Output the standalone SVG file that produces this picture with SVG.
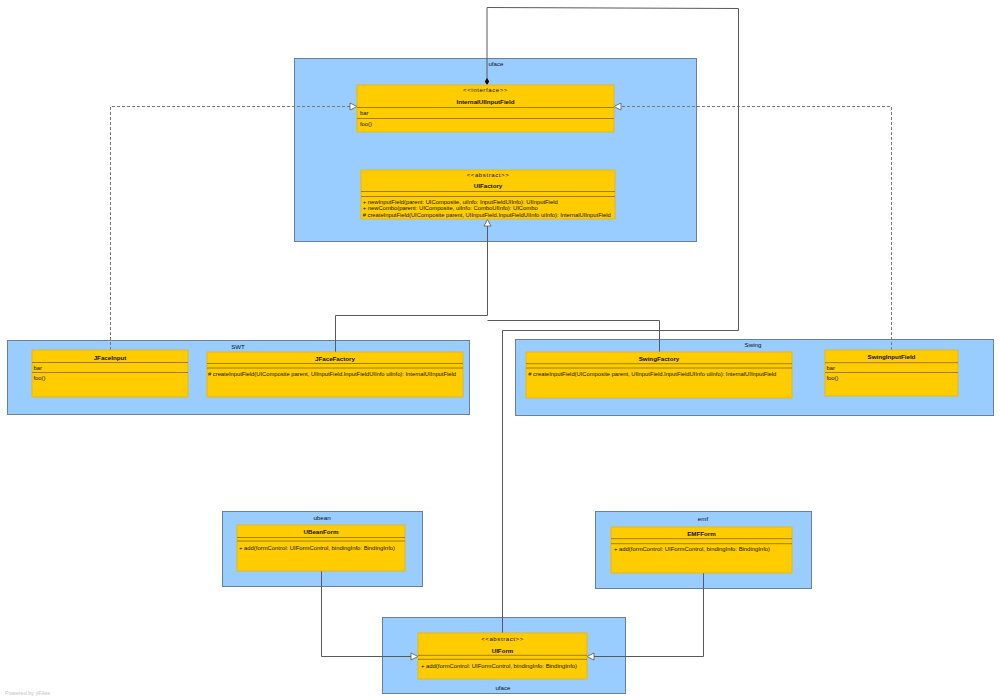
<svg xmlns="http://www.w3.org/2000/svg" width="1000" height="700" viewBox="0 0 1000 700">
<style>
.pkg{fill:#99CCFF;stroke:#6E7F99;stroke-width:1}
.cls{fill:#FFCC00;stroke:#E8B400;stroke-width:0.8}
.sep{stroke:#8A6A00;stroke-width:0.8}
text{font-family:"Liberation Sans",Arial,sans-serif;fill:#111}
.plbl{font-size:6.2px;text-anchor:middle}
.st{font-size:6px;text-anchor:middle;letter-spacing:0.6px}
.nm{font-size:6.2px;font-weight:bold;text-anchor:middle}
.mb{font-size:5.8px}
.ln{fill:none;stroke:#5a5a5a;stroke-width:1}
.dl{fill:none;stroke:#777;stroke-width:1;stroke-dasharray:3,2}
.tri{fill:#fff;stroke:#555;stroke-width:0.8}
</style>
<rect width="1000" height="700" fill="#fff"/>

<g id="pkg-uface-top">
<rect class="pkg" x="294.5" y="58.5" width="402" height="183"/>
<text class="plbl" x="496" y="66">uface</text>
</g>
<g id="pkg-swt">
<rect class="pkg" x="7.5" y="340.5" width="462" height="74"/>
<text class="plbl" x="238" y="349">SWT</text>
</g>
<g id="pkg-swing">
<rect class="pkg" x="515.5" y="339.5" width="478" height="76"/>
<text class="plbl" x="753" y="347">Swing</text>
</g>
<g id="pkg-ubean">
<rect class="pkg" x="222.5" y="511.5" width="200" height="75"/>
<text class="plbl" x="322" y="520">ubean</text>
</g>
<g id="pkg-emf">
<rect class="pkg" x="595.5" y="511.5" width="216" height="77"/>
<text class="plbl" x="703" y="520.5">emf</text>
</g>
<g id="pkg-uface-bottom">
<rect class="pkg" x="382.5" y="617.5" width="243" height="76"/>
<text class="plbl" x="503" y="689.5">uface</text>
</g>

<g id="connectors">
<polyline class="ln" points="487,79 487,7.5 738.5,8.5 738.5,330.5 502.5,330.5 502.5,633"/>
<polygon points="487,78 489.2,81.5 487,85 484.8,81.5" fill="#000"/>
<polyline class="ln" points="335.5,352 335.5,315.5 487.5,315.5 487.5,226"/>
<polyline class="ln" points="659.5,352 659.5,320.5 487.5,320.5"/>
<polygon class="tri" points="487.5,219.5 491,226 484,226"/>
<polyline class="dl" points="110.5,350 110.5,106.5 350,106.5"/>
<polygon class="tri" points="357,106.5 350,103 350,110"/>
<polyline class="dl" points="891.5,350 891.5,106.5 621,106.5"/>
<polygon class="tri" points="614,106.5 621,103 621,110"/>
<polyline class="ln" points="321.5,571 321.5,656.5 411,656.5"/>
<polygon class="tri" points="418,656.5 411,653 411,660"/>
<polyline class="ln" points="703.5,573 703.5,656.5 594,656.5"/>
<polygon class="tri" points="587,656.5 594,653 594,660"/>
</g>

<g id="InternalUIInputField">
<rect class="cls" x="357" y="85" width="257" height="47"/>
<text class="st" x="485.5" y="92.2">&lt;&lt;interface&gt;&gt;</text>
<text class="nm" x="485.5" y="104">InternalUIInputField</text>
<line class="sep" x1="357" y1="107.5" x2="614" y2="107.5"/>
<text class="mb" x="360" y="115">bar</text>
<line class="sep" x1="357" y1="118.5" x2="614" y2="118.5"/>
<text class="mb" x="360" y="126">foo()</text>
</g>

<g id="UIFactory">
<rect class="cls" x="361" y="170" width="254" height="49"/>
<text class="st" x="488" y="177">&lt;&lt;abstract&gt;&gt;</text>
<text class="nm" x="488" y="188">UIFactory</text>
<line class="sep" x1="361" y1="191.5" x2="615" y2="191.5"/>
<line class="sep" x1="361" y1="196.5" x2="615" y2="196.5"/>
<text class="mb" x="362.7" y="203.6" textLength="195" lengthAdjust="spacingAndGlyphs">+ newInputField(parent: UIComposite, uiInfo: InputFieldUIInfo): UIInputField</text>
<text class="mb" x="362.7" y="210.2" textLength="175" lengthAdjust="spacingAndGlyphs">+ newCombo(parent: UIComposite, uiInfo: ComboUIInfo): UICombo</text>
<text class="mb" x="362.7" y="216.7" textLength="248" lengthAdjust="spacingAndGlyphs"># createInputField(UIComposite parent, UIInputField.InputFieldUIInfo uiInfo): InternalUIInputField</text>
</g>

<g id="JFaceInput">
<rect class="cls" x="32" y="350" width="156" height="47"/>
<text class="nm" x="110" y="359.5">JFaceInput</text>
<line class="sep" x1="32" y1="362.5" x2="188" y2="362.5"/>
<text class="mb" x="33.5" y="369.7">bar</text>
<line class="sep" x1="32" y1="372.5" x2="188" y2="372.5"/>
<text class="mb" x="33.5" y="380.3">foo()</text>
</g>

<g id="JFaceFactory">
<rect class="cls" x="207" y="352" width="256" height="45"/>
<text class="nm" x="335" y="361">JFaceFactory</text>
<line class="sep" x1="207" y1="363.5" x2="463" y2="363.5"/>
<line class="sep" x1="207" y1="368" x2="463" y2="368"/>
<text class="mb" x="208" y="376" textLength="248" lengthAdjust="spacingAndGlyphs"># createInputField(UIComposite parent, UIInputField.InputFieldUIInfo uiInfo): InternalUIInputField</text>
</g>

<g id="SwingFactory">
<rect class="cls" x="526" y="352" width="266" height="46"/>
<text class="nm" x="659" y="361">SwingFactory</text>
<line class="sep" x1="526" y1="363.7" x2="792" y2="363.7"/>
<line class="sep" x1="526" y1="368" x2="792" y2="368"/>
<text class="mb" x="528.3" y="376" textLength="248" lengthAdjust="spacingAndGlyphs"># createInputField(UIComposite parent, UIInputField.InputFieldUIInfo uiInfo): InternalUIInputField</text>
</g>

<g id="SwingInputField">
<rect class="cls" x="825" y="350" width="133" height="46"/>
<text class="nm" x="891.5" y="359">SwingInputField</text>
<line class="sep" x1="825" y1="362.7" x2="958" y2="362.7"/>
<text class="mb" x="826.5" y="370">bar</text>
<line class="sep" x1="825" y1="372.5" x2="958" y2="372.5"/>
<text class="mb" x="826.5" y="380.3">foo()</text>
</g>

<g id="UBeanForm">
<rect class="cls" x="237" y="525" width="168" height="46"/>
<text class="nm" x="321" y="534">UBeanForm</text>
<line class="sep" x1="237" y1="537.5" x2="405" y2="537.5"/>
<line class="sep" x1="237" y1="541" x2="405" y2="541"/>
<text class="mb" x="239" y="549.8" textLength="156" lengthAdjust="spacingAndGlyphs">+ add(formControl: UIFormControl, bindingInfo: BindingInfo)</text>
</g>

<g id="EMFForm">
<rect class="cls" x="611" y="527" width="181" height="46"/>
<text class="nm" x="701.5" y="535.5">EMFForm</text>
<line class="sep" x1="611" y1="538.7" x2="792" y2="538.7"/>
<line class="sep" x1="611" y1="543.7" x2="792" y2="543.7"/>
<text class="mb" x="614" y="551" textLength="156" lengthAdjust="spacingAndGlyphs">+ add(formControl: UIFormControl, bindingInfo: BindingInfo)</text>
</g>

<g id="UIForm">
<rect class="cls" x="418" y="633" width="169" height="46"/>
<text class="st" x="502.5" y="641.3">&lt;&lt;abstract&gt;&gt;</text>
<text class="nm" x="502.5" y="652.5">UIForm</text>
<line class="sep" x1="418" y1="655.3" x2="587" y2="655.3"/>
<line class="sep" x1="418" y1="659.3" x2="587" y2="659.3"/>
<text class="mb" x="421" y="667.5" textLength="156" lengthAdjust="spacingAndGlyphs">+ add(formControl: UIFormControl, bindingInfo: BindingInfo)</text>
</g>

<text x="5" y="694.5" style="font-size:5.5px;fill:#c4c4c4">Powered by yFiles</text>
</svg>
